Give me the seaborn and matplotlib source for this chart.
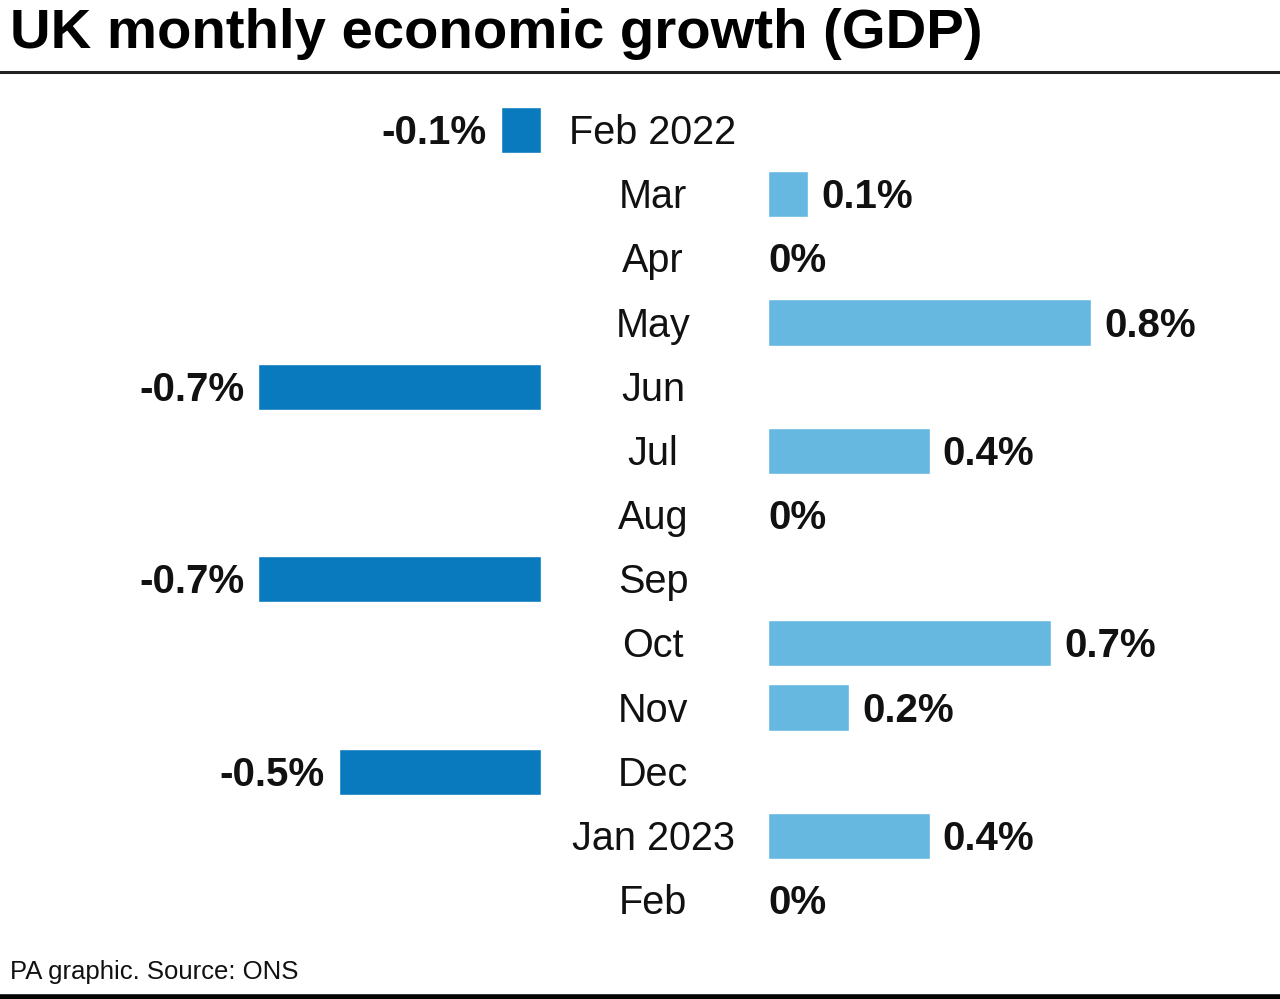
import matplotlib
matplotlib.use("Agg")
import matplotlib.pyplot as plt
import matplotlib.transforms as mtransforms
from matplotlib.lines import Line2D
import seaborn as sns
import numpy as np

months = ["Feb 2022", "Mar", "Apr", "May", "Jun", "Jul", "Aug", "Sep",
          "Oct", "Nov", "Dec", "Jan 2023", "Feb"]
growth = [-0.1, 0.1, 0.0, 0.8, -0.7, 0.4, 0.0, -0.7, 0.7, 0.2, -0.5, 0.4, 0.0]
labels = ["-0.1%", "0.1%", "0%", "0.8%", "-0.7%", "0.4%", "0%", "-0.7%",
          "0.7%", "0.2%", "-0.5%", "0.4%", "0%"]

DARK = "#0A7ABF"
LIGHT = "#66B8E0"

sns.set_theme(style="white")
plt.rcParams["font.family"] = ["Liberation Sans", "DejaVu Sans"]

W, H = 1280, 999
fig = plt.figure(figsize=(W / 100, H / 100), dpi=100)

PX_PER_UNIT = 404.0
top_px, bot_px = 98, 932
ax_bottom = (H - bot_px) / H
ax_height = (bot_px - top_px) / H

zero_left = 541
zero_right = 768
axL = fig.add_axes([0, ax_bottom, zero_left / W, ax_height])
axR = fig.add_axes([zero_right / W, ax_bottom, (W - zero_right) / W, ax_height])

neg = [min(v, 0.0) for v in growth]
pos = [max(v, 0.0) for v in growth]

sns.barplot(x=neg, y=months, orient="h", color=DARK, saturation=1,
            width=0.72, ax=axL)
sns.barplot(x=pos, y=months, orient="h", color=LIGHT, saturation=1,
            width=0.72, ax=axR)

axL.set_xlim(-zero_left / PX_PER_UNIT, 0)
axR.set_xlim(0, (W - zero_right) / PX_PER_UNIT)
for ax in (axL, axR):
    ax.set_ylim(len(months) - 0.5, -0.5)
    ax.set_axis_off()

VAL_FS = 29
DY = -2.2
for i, (v, lab) in enumerate(zip(growth, labels)):
    if v < 0:
        axL.annotate(lab, xy=(v, i), xytext=(-10, DY), textcoords="offset points",
                     ha="right", va="center", fontsize=VAL_FS, fontweight="bold",
                     color="#111111")
    else:
        off = 9.5 if v > 0 else 0.5
        axR.annotate(lab, xy=(v, i), xytext=(off, DY), textcoords="offset points",
                     ha="left", va="center", fontsize=VAL_FS, fontweight="bold",
                     color="#111111")

trans = mtransforms.blended_transform_factory(fig.transFigure, axR.transData)
shift = mtransforms.ScaledTranslation(0, DY / 72, fig.dpi_scale_trans)
for i, m in enumerate(months):
    fig.text(653 / W, i, m, transform=trans + shift, ha="center", va="center",
             fontsize=28.5, color="#111111")

fig.text(10 / W, 1 - 34 / H, "UK monthly economic growth (GDP)", ha="left",
         va="center", fontsize=40.5, fontweight="bold", color="black")
fig.text(10 / W, 1 - 972 / H, "PA graphic. Source: ONS", ha="left",
         va="center", fontsize=18.5, color="#111111")

fig.add_artist(Line2D([0, 1], [1 - 72 / H] * 2, lw=2.2, color="#222222",
                      transform=fig.transFigure))
fig.add_artist(Line2D([0, 1], [1 - 997 / H] * 2, lw=4, color="black",
                      transform=fig.transFigure))

fig.savefig("out.png", dpi=100)
